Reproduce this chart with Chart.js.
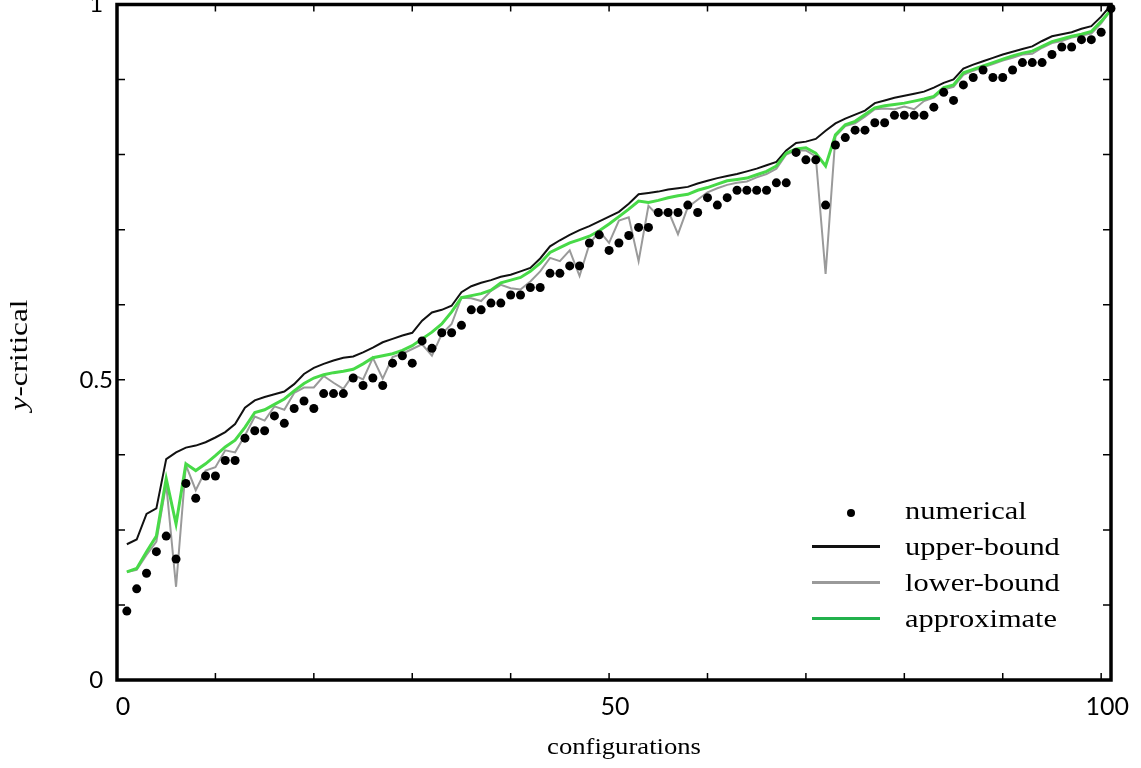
<!DOCTYPE html>
<html>
<head>
<meta charset="utf-8">
<script src="https://cdn.jsdelivr.net/npm/chart.js@4.4.1/dist/chart.umd.min.js"></script>
<style>
  body { margin: 0; background: #fff; }
  #wrap { position: relative; width: 1141px; height: 768px; }
  .ytitle { position: absolute; left: 19px; top: 355px; transform: translate(-50%, -50%) rotate(-90deg) scaleX(1.2);
    font-family: "Liberation Serif", serif; font-size: 26px; white-space: nowrap; }
  .xtitle { position: absolute; left: 624px; top: 746px; transform: translate(-50%, -50%) scaleX(1.11);
    font-family: "Liberation Serif", serif; font-size: 24px; white-space: nowrap; }
  #legend { position: absolute; left: 812px; top: 493px; font-family: "Liberation Serif", serif; font-size: 26px; }
  #legend div { height: 36px; line-height: 36px; white-space: nowrap; }
  #legend span.mk { display: inline-block; width: 68px; height: 36px; vertical-align: top; position: relative; margin-right: 25px; }
  #legend span.tx { display: inline-block; transform: scaleX(1.17); transform-origin: left center; }
</style>
</head>
<body>
<div id="wrap">
  <canvas id="chart"></canvas>
  <div class="ytitle"><i>y</i>-critical</div>
  <div class="xtitle">configurations</div>
  <div id="legend"></div>
</div>
<script>
// configuration index for each point
const configs = Array.from({ length: 101 }, (_, i) => i + 1);

const numerical = [
  0.102, 0.135, 0.158, 0.190, 0.213, 0.179, 0.291, 0.269, 0.302, 0.302,
  0.325, 0.325, 0.358, 0.369, 0.369, 0.391, 0.380, 0.402, 0.413, 0.402,
  0.424, 0.424, 0.424, 0.447, 0.436, 0.447, 0.436, 0.469, 0.480, 0.469,
  0.502, 0.491, 0.514, 0.514, 0.525, 0.548, 0.548, 0.558, 0.558, 0.570,
  0.570, 0.581, 0.581, 0.602, 0.602, 0.613, 0.613, 0.647, 0.659, 0.636,
  0.647, 0.658, 0.670, 0.670, 0.692, 0.692, 0.692, 0.703, 0.692, 0.714,
  0.703, 0.714, 0.725, 0.725, 0.725, 0.725, 0.736, 0.736, 0.781, 0.770,
  0.770, 0.703, 0.792, 0.803, 0.814, 0.814, 0.825, 0.825, 0.836, 0.836,
  0.836, 0.836, 0.848, 0.870, 0.858, 0.881, 0.892, 0.903, 0.892, 0.892,
  0.903, 0.914, 0.914, 0.914, 0.926, 0.937, 0.937, 0.948, 0.948, 0.959,
  0.994
];

const upperBound = [
  0.201, 0.208, 0.246, 0.254, 0.327, 0.337, 0.344, 0.347, 0.352, 0.359,
  0.367, 0.379, 0.403, 0.414, 0.419, 0.423, 0.427, 0.438, 0.453, 0.462,
  0.468, 0.473, 0.477, 0.479, 0.485, 0.492, 0.500, 0.505, 0.510, 0.514,
  0.532, 0.544, 0.548, 0.554, 0.574, 0.583, 0.588, 0.592, 0.597, 0.600,
  0.605, 0.610, 0.624, 0.642, 0.651, 0.659, 0.666, 0.672, 0.679, 0.686,
  0.693, 0.705, 0.719, 0.721, 0.723, 0.726, 0.728, 0.730, 0.735, 0.739,
  0.743, 0.746, 0.749, 0.753, 0.757, 0.762, 0.767, 0.784, 0.795, 0.797,
  0.801, 0.813, 0.824, 0.831, 0.837, 0.843, 0.854, 0.858, 0.862, 0.865,
  0.868, 0.871, 0.877, 0.884, 0.889, 0.905, 0.911, 0.916, 0.921, 0.926,
  0.930, 0.934, 0.938, 0.946, 0.953, 0.956, 0.959, 0.964, 0.968, 0.982,
  0.999
];

const lowerBound = [
  0.160, 0.163, 0.185, 0.205, 0.290, 0.138, 0.318, 0.281, 0.310, 0.315,
  0.340, 0.337, 0.362, 0.390, 0.384, 0.405, 0.400, 0.425, 0.433, 0.433,
  0.450, 0.440, 0.431, 0.452, 0.445, 0.477, 0.446, 0.478, 0.483, 0.490,
  0.497, 0.480, 0.512, 0.527, 0.566, 0.565, 0.561, 0.576, 0.585, 0.580,
  0.578, 0.590, 0.605, 0.625, 0.620, 0.636, 0.598, 0.645, 0.665, 0.647,
  0.680, 0.685, 0.620, 0.702, 0.687, 0.695, 0.660, 0.700, 0.711, 0.722,
  0.728, 0.733, 0.736, 0.738, 0.744, 0.749, 0.757, 0.778, 0.784, 0.784,
  0.775, 0.601, 0.805, 0.820, 0.824, 0.834, 0.845, 0.846, 0.845, 0.849,
  0.845, 0.857, 0.862, 0.874, 0.878, 0.896, 0.902, 0.907, 0.912, 0.917,
  0.921, 0.926, 0.927, 0.936, 0.943, 0.946, 0.951, 0.954, 0.957, 0.972,
  0.992
];

const approximate = [
  0.160, 0.165, 0.190, 0.213, 0.298, 0.231, 0.320, 0.310, 0.320, 0.332,
  0.345, 0.355, 0.374, 0.396, 0.400, 0.408, 0.416, 0.428, 0.439, 0.447,
  0.452, 0.455, 0.457, 0.460, 0.468, 0.477, 0.480, 0.483, 0.488, 0.495,
  0.505, 0.515, 0.527, 0.545, 0.566, 0.569, 0.572, 0.577, 0.588, 0.592,
  0.596, 0.605, 0.617, 0.633, 0.640, 0.647, 0.652, 0.657, 0.665, 0.675,
  0.686, 0.697, 0.709, 0.707, 0.710, 0.714, 0.717, 0.719, 0.725, 0.729,
  0.734, 0.739, 0.741, 0.743, 0.748, 0.753, 0.761, 0.780, 0.786, 0.788,
  0.780, 0.761, 0.807, 0.822, 0.827, 0.837, 0.847, 0.850, 0.852, 0.854,
  0.857, 0.860, 0.864, 0.877, 0.881, 0.899, 0.904, 0.909, 0.914, 0.919,
  0.924, 0.928, 0.931, 0.938, 0.945, 0.949, 0.953, 0.956, 0.960, 0.975,
  0.992
];

// axis ticks (the y axis carries nine tick intervals; only three are labelled)
const xTickValues = [0, 10, 20, 30, 40, 50, 60, 70, 80, 90, 100];
const xTickLabels = ['0', '', '', '', '', '50', '', '', '', '', '100'];
const yTickValues = [0, 1/9, 2/9, 3/9, 4/9, 5/9, 6/9, 7/9, 8/9, 1];
const yTickLabels = ['0', '', '', '', '0.5', '', '', '', '', '1'];

const pts = arr => arr.map((y, i) => ({ x: configs[i], y: y }));

// frame + inward tick marks
const framePlugin = {
  id: 'frame',
  afterDatasetsDraw(chart) {
    const { ctx, chartArea: a, scales } = chart;
    ctx.save();
    ctx.strokeStyle = '#000';
    ctx.lineWidth = 1.5;
    ctx.beginPath();
    scales.x.ticks.forEach(t => {
      const px = scales.x.getPixelForValue(t.value);
      ctx.moveTo(px, a.bottom); ctx.lineTo(px, a.bottom - 7);
      ctx.moveTo(px, a.top); ctx.lineTo(px, a.top + 7);
    });
    scales.y.ticks.forEach(t => {
      const py = scales.y.getPixelForValue(t.value);
      ctx.moveTo(a.left, py); ctx.lineTo(a.left + 8, py);
      ctx.moveTo(a.right, py); ctx.lineTo(a.right - 8, py);
    });
    ctx.stroke();
    ctx.lineWidth = 3.5;
    ctx.strokeRect(a.left, a.top, a.right - a.left, a.bottom - a.top);
    ctx.restore();
  }
};

const chart = new Chart(document.getElementById('chart'), {
  type: 'line',
  data: {
    datasets: [
      {
        label: 'numerical',
        type: 'scatter',
        data: pts(numerical),
        showLine: false,
        pointRadius: 4.5,
        pointBackgroundColor: '#000',
        pointBorderWidth: 0,
        clip: false,
        order: 0
      },
      {
        label: 'upper-bound',
        data: pts(upperBound),
        borderColor: '#111',
        borderWidth: 2,
        pointRadius: 0,
        tension: 0,
        order: 3
      },
      {
        label: 'lower-bound',
        data: pts(lowerBound),
        borderColor: '#9a9a9a',
        borderWidth: 2,
        pointRadius: 0,
        tension: 0,
        order: 2
      },
      {
        label: 'approximate',
        data: pts(approximate),
        borderColor: '#48da48',
        legendColor: '#22b14c',
        borderWidth: 3,
        pointRadius: 0,
        tension: 0,
        order: 1
      }
    ]
  },
  options: {
    responsive: true,
    maintainAspectRatio: false,
    animation: false,
    layout: { padding: { top: 3, right: 30, left: 0, bottom: 0 } },
    plugins: { legend: { display: false }, tooltip: { enabled: false } },
    scales: {
      x: {
        type: 'linear',
        min: 0,
        max: 101,
        afterBuildTicks: s => { s.ticks = xTickValues.map(v => ({ value: v })); },
        afterFit: s => { s.height = 88; s.paddingLeft = 0; s.paddingRight = 0; },
        grid: { display: false, drawTicks: false },
        border: { display: false },
        ticks: {
          padding: 12,
          labelOffset: 6,
          color: '#000',
          font: { family: 'Lato', size: 25 },
          maxRotation: 0,
          autoSkip: false,
          callback: (v, i) => xTickLabels[i]
        }
      },
      y: {
        type: 'linear',
        min: 0,
        max: 1,
        afterBuildTicks: s => { s.ticks = yTickValues.map(v => ({ value: v })); },
        afterFit: s => { s.width = 117; s.paddingTop = 0; s.paddingBottom = 0; },
        grid: { display: false, drawTicks: false },
        border: { display: false },
        ticks: {
          padding: 4,
          crossAlign: 'center',
          color: '#000',
          font: { family: 'Lato', size: 24 },
          autoSkip: false,
          callback: (v, i) => yTickLabels[i]
        }
      }
    }
  },
  plugins: [framePlugin]
});

// legend built from the datasets, in the reference's order
const legendEl = document.getElementById('legend');
chart.data.datasets.forEach(ds => {
  const row = document.createElement('div');
  const mk = document.createElement('span');
  mk.className = 'mk';
  if (ds.showLine === false) {
    mk.innerHTML = '<span style="position:absolute;left:35px;top:16px;width:8px;height:8px;border-radius:50%;background:#000"></span>';
  } else {
    const c = ds.legendColor || ds.borderColor;
    mk.innerHTML = '<span style="position:absolute;left:0;top:16px;width:68px;height:3px;background:' + c + '"></span>';
  }
  const tx = document.createElement('span');
  tx.className = 'tx';
  tx.textContent = ds.label;
  row.appendChild(mk);
  row.appendChild(tx);
  legendEl.appendChild(row);
});
</script>
</body>
</html>
